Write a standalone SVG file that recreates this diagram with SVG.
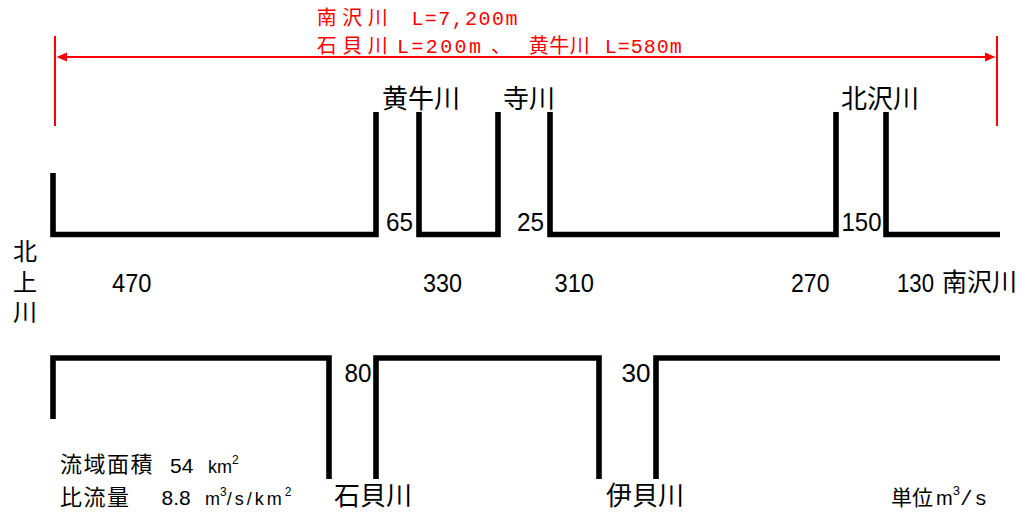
<svg xmlns="http://www.w3.org/2000/svg" width="1030" height="513" viewBox="0 0 1030 513">
<style>
.river{fill:none;stroke:#000;stroke-width:5.6;stroke-linecap:butt;stroke-linejoin:miter}
.red{fill:none;stroke:#ff0000;stroke-width:2}
.jp{font-family:"Noto Sans CJK JP","Noto Sans CJK SC",sans-serif;fill:#000}
.num{font-family:"Liberation Sans",Arial,sans-serif;font-size:25px;fill:#000}
.rj{font-family:"Noto Sans CJK JP",sans-serif;font-size:20px;fill:#ff0000}
.rl{font-family:"Liberation Mono","Noto Sans CJK JP",monospace;font-size:20px;fill:#ff0000}
.lg{font-family:"Liberation Sans",Arial,sans-serif;fill:#000}
.mono{font-family:"Liberation Mono",monospace;fill:#000}
</style>
<rect width="1030" height="513" fill="#fff"/>
<g id="length-dimension">
<line class="red" x1="55" y1="36" x2="55" y2="126"/>
<line class="red" x1="997" y1="36" x2="997" y2="126"/>
<line class="red" x1="64" y1="57" x2="988" y2="57"/>
<polygon points="56.5,57 67,52.5 67,61.5" fill="#ff0000"/>
<polygon points="995.5,57 985,52.5 985,61.5" fill="#ff0000"/>
<text class="rj" x="316.8" y="25" textLength="71" lengthAdjust="spacing">南沢川</text>
<text class="rl" x="411.4" y="25" textLength="106" lengthAdjust="spacing">L=7,200m</text>
<text class="rj" x="316.8" y="53" textLength="71" lengthAdjust="spacing">石貝川</text>
<text class="rl" x="397" y="53" textLength="84" lengthAdjust="spacing">L=200m</text>
<text class="rj" x="491" y="53">、</text>
<text class="rj" x="528.8" y="53" textLength="61" lengthAdjust="spacing">黄牛川</text>
<text class="rl" x="604.7" y="53" textLength="77" lengthAdjust="spacing">L=580m</text>
</g>
<g id="connectors">
<path class="river" d="M53,173 V234.5 H376 V112"/>
<path class="river" d="M419,112 V234.5 H498 V112"/>
<path class="river" d="M550,112 V234.5 H836 V112"/>
<path class="river" d="M886,112 V234.5 H1000"/>
<path class="river" d="M53,419 V358 H329 V479"/>
<path class="river" d="M376,479 V358 H599 V479"/>
<path class="river" d="M656,479 V358 H1000"/>
</g>
<g id="node-kitakami">
<text class="jp" font-size="24" x="25" y="260" text-anchor="middle">北</text>
<text class="jp" font-size="24" x="25" y="291" text-anchor="middle">上</text>
<text class="jp" font-size="24" x="25" y="321" text-anchor="middle">川</text>
</g>
<g id="node-kogyu">
<text class="jp" font-size="26" x="382" y="108">黄牛川</text>
<text class="num" x="386" y="230.7" textLength="27" lengthAdjust="spacingAndGlyphs">65</text>
</g>
<g id="node-tera">
<text class="jp" font-size="26" x="503" y="108">寺川</text>
<text class="num" x="517" y="230.7" textLength="27" lengthAdjust="spacingAndGlyphs">25</text>
</g>
<g id="node-kitazawa">
<text class="jp" font-size="26" x="841" y="108">北沢川</text>
<text class="num" x="841.5" y="230.7" textLength="40" lengthAdjust="spacingAndGlyphs">150</text>
</g>
<g id="node-ishigai">
<text class="jp" font-size="26" x="334" y="505">石貝川</text>
<text class="num" x="344.5" y="381.7" textLength="27" lengthAdjust="spacingAndGlyphs">80</text>
</g>
<g id="node-igai">
<text class="jp" font-size="26" x="606" y="505">伊貝川</text>
<text class="num" x="621.5" y="382" textLength="29" lengthAdjust="spacingAndGlyphs">30</text>
</g>
<g id="flows">
<text class="num" x="112" y="291.5" textLength="39.5" lengthAdjust="spacingAndGlyphs">470</text>
<text class="num" x="423" y="291.5" textLength="39" lengthAdjust="spacingAndGlyphs">330</text>
<text class="num" x="554.5" y="291.5" textLength="39.5" lengthAdjust="spacingAndGlyphs">310</text>
<text class="num" x="791" y="291.5" textLength="38.5" lengthAdjust="spacingAndGlyphs">270</text>
<text class="num" x="897" y="291.5" textLength="37" lengthAdjust="spacingAndGlyphs">130</text>
</g>
<g id="node-minamisawa">
<text class="jp" font-size="25" x="942" y="291">南沢川</text>
</g>
<g id="legend">
<text class="jp" font-size="22" x="60" y="472" letter-spacing="1.5">流域面積</text>
<text class="lg" font-size="21" x="170" y="473">54</text>
<text class="lg" font-size="18" x="208" y="473">km<tspan font-size="12" dy="-9">2</tspan></text>
<text class="jp" font-size="22" x="60" y="505" letter-spacing="1.5">比流量</text>
<text class="lg" font-size="21" x="161.5" y="505">8.8</text>
<text class="lg" font-size="18" x="205" y="505">m<tspan font-size="12" dy="-9">3</tspan><tspan dy="9" letter-spacing="3">/s/km</tspan><tspan font-size="12" dy="-9">2</tspan></text>
<text class="jp" font-size="21" x="891" y="505">単位</text>
<text class="lg" font-size="20" x="936" y="505">m<tspan font-size="13" dy="-10">3</tspan></text>
<text class="mono" font-size="21" x="960" y="505" letter-spacing="2">/s</text>
</g>
</svg>
